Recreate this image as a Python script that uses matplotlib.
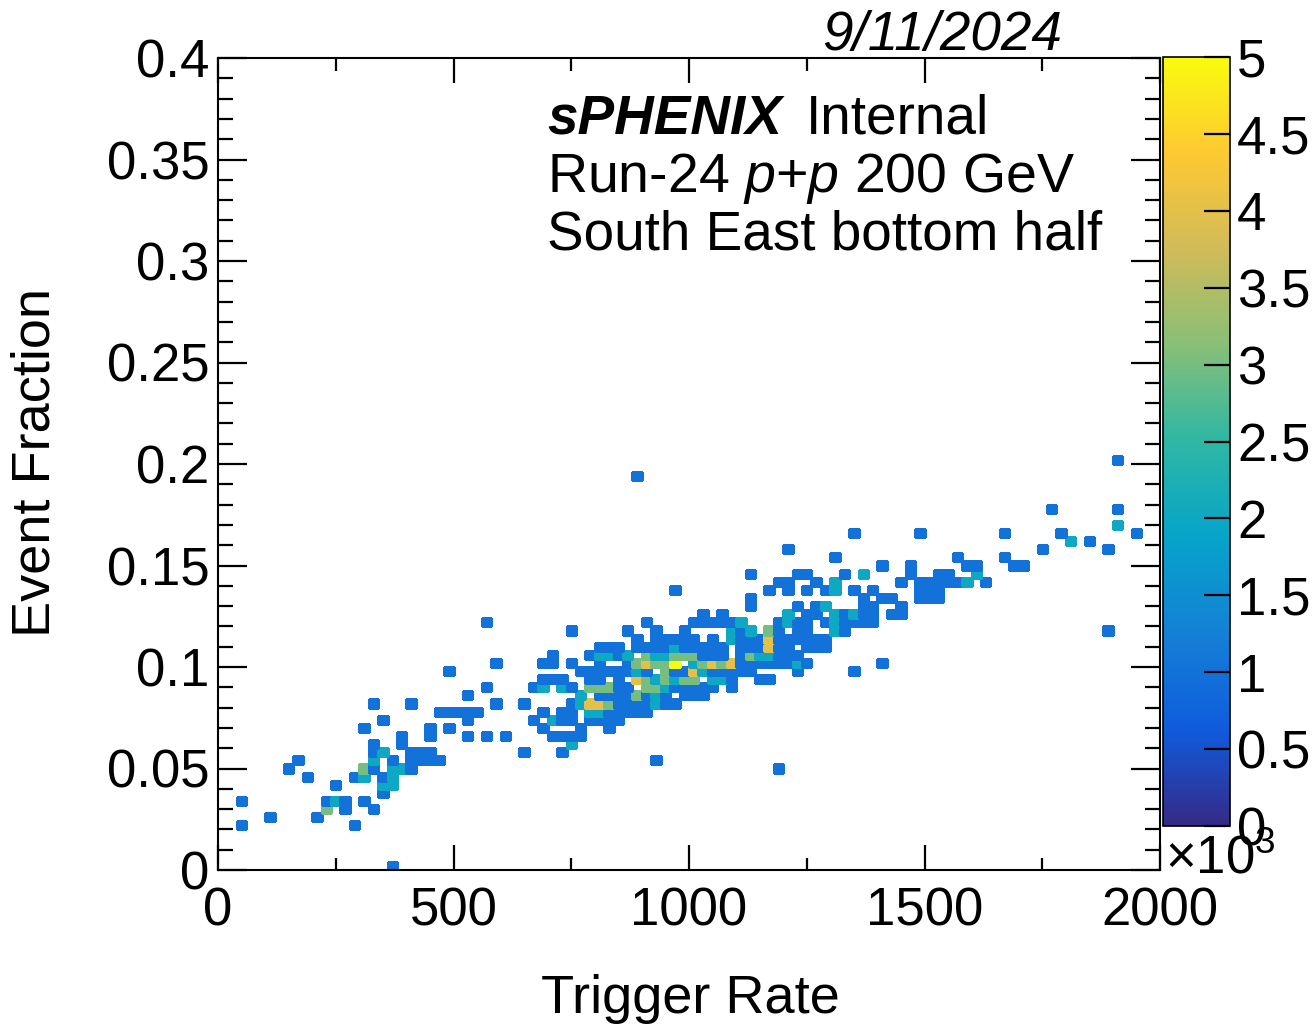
import numpy as np
import matplotlib
matplotlib.use("Agg")
import matplotlib.pyplot as plt
from matplotlib.colors import LinearSegmentedColormap
from matplotlib.ticker import MultipleLocator

plt.rcParams['font.family'] = ['Liberation Sans', 'DejaVu Sans']
plt.rcParams['mathtext.fontset'] = 'custom'
plt.rcParams['mathtext.rm'] = 'Liberation Sans'
plt.rcParams['mathtext.it'] = 'Liberation Sans:italic'
plt.rcParams['mathtext.bf'] = 'Liberation Sans:bold'

# 2D histogram, one entry per event-fraction row.
# counts are in units of 10^3
row_fraction = [0.002, 0.022, 0.026, 0.030, 0.034, 0.038, 0.042, 0.046, 0.050,
                0.054, 0.058, 0.062, 0.066, 0.070, 0.074, 0.078, 0.082, 0.086,
                0.090, 0.094, 0.098, 0.102, 0.106, 0.110, 0.114, 0.118, 0.122,
                0.126, 0.130, 0.134, 0.138, 0.142, 0.146, 0.150, 0.154, 0.158,
                0.162, 0.166, 0.170, 0.178, 0.194, 0.202]

row_rates = [
    [370],
    [50, 290],
    [110, 210],
    [230, 270, 330],
    [50, 230, 250, 270, 310],
    [350],
    [250, 350, 370],
    [190, 290, 310, 350, 370],
    [150, 310, 330, 370, 390, 410, 1190],
    [170, 330, 370, 410, 430, 450, 470, 930],
    [330, 350, 410, 430, 450, 650, 730],
    [330, 390, 750],
    [390, 450, 530, 570, 610, 710, 730, 750, 770],
    [310, 450, 490, 690, 770, 830],
    [350, 530, 670, 710, 730, 750, 790, 810, 830, 850],
    [470, 490, 510, 530, 550, 690, 730, 750, 790, 810, 830, 850, 870, 890, 910],
    [330, 410, 590, 650, 750, 770, 790, 810, 830, 850, 870, 890, 910, 930, 950, 970],
    [530, 770, 810, 830, 850, 870, 890, 910, 930, 950, 990, 1010, 1030],
    [570, 670, 690, 730, 750, 790, 810, 830, 850, 870, 910, 930, 950, 970, 990,
     1010, 1030, 1050, 1090],
    [690, 710, 730, 790, 810, 850, 890, 910, 930, 950, 970, 990, 1010, 1050,
     1070, 1090, 1150, 1170],
    [490, 770, 790, 810, 830, 850, 870, 890, 910, 950, 970, 990, 1010, 1030,
     1050, 1070, 1090, 1110, 1130, 1230, 1350],
    [590, 690, 710, 750, 810, 870, 890, 910, 930, 950, 970, 1010, 1030, 1050,
     1070, 1090, 1110, 1130, 1150, 1170, 1190, 1210, 1230, 1250, 1410],
    [710, 790, 810, 830, 850, 870, 910, 930, 950, 970, 990, 1010, 1030, 1050,
     1070, 1110, 1130, 1150, 1170, 1190, 1210, 1230],
    [810, 830, 850, 890, 910, 930, 950, 970, 990, 1010, 1030, 1050, 1070, 1110,
     1130, 1150, 1170, 1190, 1210, 1250, 1270, 1290],
    [890, 930, 950, 970, 990, 1010, 1050, 1090, 1110, 1130, 1150, 1170, 1190,
     1210, 1230, 1250, 1270, 1290],
    [750, 870, 930, 990, 1090, 1110, 1130, 1170, 1190, 1230, 1250, 1310, 1330, 1890],
    [570, 910, 1010, 1030, 1050, 1070, 1090, 1110, 1190, 1210, 1230, 1250, 1290,
     1310, 1330, 1350, 1370, 1390],
    [1030, 1070, 1210, 1250, 1270, 1310, 1330, 1350, 1370, 1390, 1430, 1450],
    [1130, 1230, 1270, 1290, 1370, 1390, 1450],
    [1130, 1370, 1410, 1430, 1490, 1510, 1530],
    [970, 1170, 1210, 1250, 1290, 1310, 1350, 1390, 1490, 1510, 1530],
    [1190, 1210, 1270, 1310, 1450, 1490, 1510, 1530, 1550, 1570, 1590, 1630],
    [1130, 1230, 1250, 1330, 1370, 1470, 1530, 1550, 1610],
    [1410, 1470, 1590, 1610, 1690, 1710],
    [1310, 1570, 1670],
    [1210, 1750, 1890],
    [1810, 1850],
    [1350, 1490, 1670, 1790, 1950],
    [1910],
    [1770, 1910],
    [890],
    [1910],
]

row_counts = [
    [1],
    [1, 1],
    [1, 1],
    [3, 1, 1],
    [1, 1, 2, 1, 1],
    [1],
    [1, 2, 2],
    [1, 1, 2, 1, 2],
    [1, 3, 1, 2, 2, 1, 1],
    [1, 2, 1, 1, 1, 1, 1, 1],
    [1, 2, 1, 1, 1, 1, 1],
    [1, 1, 2],
    [1, 1, 1, 1, 1, 1, 1, 1, 1],
    [1, 1, 1, 1, 1, 1],
    [1, 1, 1, 2, 1, 1, 1, 1, 1, 1],
    [1, 1, 1, 1, 1, 1, 1, 1, 2, 2, 1, 1, 1, 1, 1],
    [1, 1, 1, 1, 1, 2, 4, 4, 3, 1, 1, 1, 1, 2, 1, 1],
    [1, 2, 1, 1, 1, 1, 3, 1, 2, 1, 1, 1, 1],
    [1, 1, 2, 2, 1, 3, 3, 3, 1, 1, 3, 3, 2, 1, 1, 1, 1, 1, 1],
    [1, 1, 1, 1, 1, 1, 4, 3, 2, 3, 2, 3, 3, 2, 2, 1, 1, 1],
    [1, 1, 1, 1, 1, 1, 1, 2, 1, 3, 1, 1, 4, 2, 1, 1, 1, 1, 1, 1, 1],
    [1, 1, 1, 1, 1, 1, 3, 4, 3, 3, 5, 2, 3, 4, 3, 4, 1, 1, 1, 1, 1, 1, 2, 1, 1],
    [1, 1, 2, 2, 1, 2, 3, 2, 2, 3, 3, 3, 1, 1, 1, 1, 3, 2, 2, 1, 1, 1],
    [1, 1, 1, 1, 1, 1, 1, 2, 1, 1, 1, 1, 1, 1, 1, 1, 4, 1, 1, 1, 1, 1],
    [1, 1, 1, 1, 1, 1, 1, 2, 1, 1, 1, 4, 1, 1, 1, 1, 1, 1],
    [1, 1, 1, 1, 2, 1, 2, 3, 1, 1, 1, 2, 1, 1],
    [1, 1, 1, 1, 1, 1, 1, 2, 1, 2, 1, 1, 1, 2, 1, 1, 1, 1],
    [1, 1, 2, 1, 1, 2, 1, 2, 1, 1, 1, 1],
    [1, 1, 1, 2, 1, 1, 1],
    [1, 1, 1, 1, 1, 1, 1],
    [1, 1, 1, 1, 1, 2, 1, 1, 1, 1, 1],
    [1, 1, 1, 2, 1, 1, 1, 1, 1, 1, 2, 1],
    [1, 1, 1, 1, 2, 1, 1, 1, 2],
    [1, 1, 1, 1, 1, 1],
    [1, 1, 1],
    [1, 1, 1],
    [2, 1],
    [1, 1, 1, 1, 1],
    [2],
    [1, 1],
    [1],
    [1],
]

rate, frac, counts = [], [], []
for f, rr, cc in zip(row_fraction, row_rates, row_counts):
    rate += rr
    frac += [f] * len(rr)
    counts += cc

# ROOT kBird palette
stops = [0.0, 0.125, 0.25, 0.375, 0.5, 0.625, 0.75, 0.875, 1.0]
red = [0.2082, 0.0592, 0.0780, 0.0232, 0.1802, 0.5301, 0.8186, 0.9956, 0.9764]
green = [0.1664, 0.3599, 0.5041, 0.6419, 0.7178, 0.7492, 0.7328, 0.7862, 0.9832]
blue = [0.5293, 0.8684, 0.8385, 0.7914, 0.6425, 0.4662, 0.3499, 0.1968, 0.0539]
bird = LinearSegmentedColormap.from_list('bird', list(zip(stops, zip(red, green, blue))))

W, H = 1316, 1027
fig = plt.figure(figsize=(W / 100, H / 100), dpi=100)
ax = fig.add_axes([218 / W, 1 - 870 / H, (1160 - 218) / W, (870 - 58) / H])
cax = fig.add_axes([1163 / W, 1 - 826 / H, (1230 - 1163) / W, (826 - 57) / H])

xbins = np.linspace(0, 2000, 101)
ybins = np.linspace(0, 0.4, 101)
h = ax.hist2d(rate, frac, bins=[xbins, ybins], weights=counts, cmap=bird,
              vmin=0, vmax=5, cmin=0.5)
h[3].set_edgecolor('face')
h[3].set_linewidth(1.0)

ax.set_xlim(0, 2000)
ax.set_ylim(0, 0.4)
ax.xaxis.set_major_locator(MultipleLocator(500))
ax.xaxis.set_minor_locator(MultipleLocator(250))
ax.yaxis.set_major_locator(MultipleLocator(0.05))
ax.yaxis.set_minor_locator(MultipleLocator(0.01))
ax.set_xticks([0, 500, 1000, 1500, 2000], ['0', '500', '1000', '1500', '2000'])
ax.set_yticks([0, 0.05, 0.1, 0.15, 0.2, 0.25, 0.3, 0.35, 0.4],
              ['0', '0.05', '0.1', '0.15', '0.2', '0.25', '0.3', '0.35', '0.4'])
ax.tick_params(axis='both', which='both', direction='in', top=True, right=True,
               labelsize=38, width=1.6, color='black')
ax.tick_params(axis='x', which='major', length=18, pad=12)
ax.tick_params(axis='x', which='minor', length=9)
ax.tick_params(axis='y', which='major', length=21, pad=6)
ax.tick_params(axis='y', which='minor', length=11)
for s in ax.spines.values():
    s.set_linewidth(1.5)

cb = fig.colorbar(h[3], cax=cax)
cb.set_ticks([0, 0.5, 1, 1.5, 2, 2.5, 3, 3.5, 4, 4.5, 5])
cb.set_ticklabels(['0', '0.5', '1', '1.5', '2', '2.5', '3', '3.5', '4', '4.5', '5'])
cax.tick_params(direction='in', length=19, width=1.6, labelsize=38, pad=5)
cb.outline.set_linewidth(1.2)
fig.text(1165 / W, 1 - 873 / H, r'$\times$10$^{3}$', fontsize=38, ha='left', va='baseline')

fig.text(690 / W, 1 - 1013 / H, 'Trigger Rate', fontsize=39, ha='center', va='baseline')
fig.text(61 / W, 1 - 462 / H, 'Event Fraction', fontsize=39, rotation=90,
         ha='right', va='center')

fig.text(1062 / W, 1 - 50 / H, '9/11/2024', fontsize=39.5, style='italic',
         ha='right', va='baseline')
fig.text(547 / W, 1 - 133 / H, 'sPHENIX', fontsize=39.5, style='italic',
         weight='bold', ha='left', va='baseline')
fig.text(806 / W, 1 - 133 / H, 'Internal', fontsize=39.5, ha='left', va='baseline')
fig.text(547 / W, 1 - 192 / H, r'Run-24 $p$+$p$ 200 GeV', fontsize=40,
         ha='left', va='baseline')
fig.text(547 / W, 1 - 250 / H, 'South East bottom half', fontsize=39.5,
         ha='left', va='baseline')

fig.savefig('out.png', dpi=100)
